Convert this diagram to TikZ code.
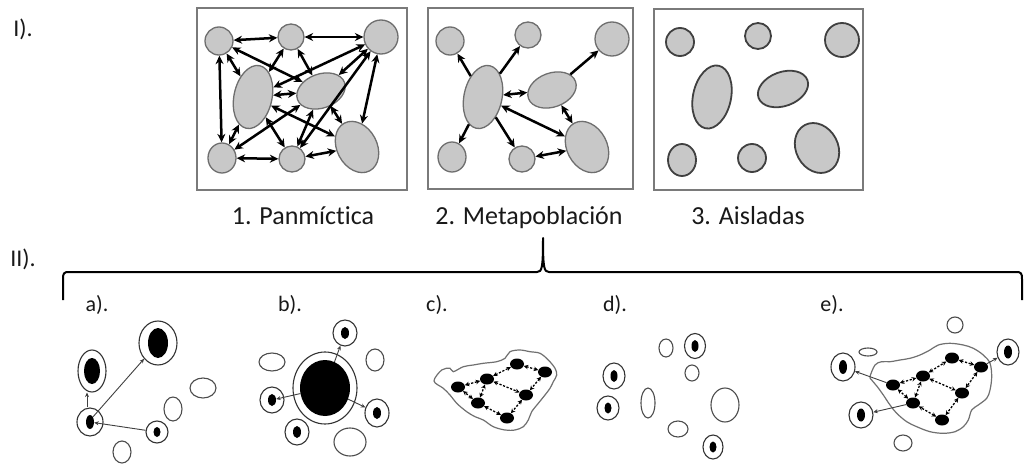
\documentclass[tikz,border=0pt]{standalone}
\usepackage{fontspec}
\setmainfont{Carlito}[Ligatures={NoCommon}]
\usetikzlibrary{shapes.geometric,arrows.meta}
\definecolor{popfill}{HTML}{C8C8C8}
\definecolor{popline}{HTML}{6E6E6E}
\definecolor{boxline}{HTML}{7A7A7A}
\definecolor{blobline}{HTML}{707070}
\tikzset{
  pop/.style={ellipse, draw=popline, fill=popfill, line width=1.3pt, inner sep=0pt},
  popdark/.style={ellipse, draw=black!75, fill=popfill, line width=1.8pt, inner sep=0pt},
  panel/.style={draw=boxline, line width=1.4pt},
  darr/.style={line width=2.5pt, {Stealth[length=8.5pt,width=8pt]}-{Stealth[length=8.5pt,width=8pt]}},
  sarr/.style={line width=2.5pt, -{Stealth[length=8.5pt,width=8pt]}},
  ring/.style={ellipse, draw=black!80, line width=1.1pt, inner sep=0pt},
  core/.style={ellipse, fill=black, inner sep=0pt},
  empty/.style={ellipse, draw=black!70, line width=1.1pt, inner sep=0pt},
  tarr/.style={line width=0.9pt, draw=black!75, -{Stealth[length=4.5pt,width=4pt]}},
  dotn/.style={ellipse, fill=black, inner sep=0pt, minimum width=14pt, minimum height=11pt},
  darrow/.style={line width=1.3pt, dash pattern=on 2.2pt off 1.6pt, {Stealth[length=4.5pt,width=4.5pt]}-{Stealth[length=4.5pt,width=4.5pt]}},
  blob/.style={draw=blobline, line width=1.2pt, fill=white},
  lbl/.style={font=\fontsize{26}{30}\selectfont, text=black!90, inner sep=0pt, anchor=base},
  slbl/.style={font=\fontsize{24}{28}\selectfont, text=black!90, inner sep=0pt},
  plbl/.style={font=\fontsize{22}{26}\selectfont, text=black!90, inner sep=0pt}
}
\begin{document}
\begin{tikzpicture}[x=1pt,y=-1pt]
\useasboundingbox (0,0) rectangle (1025,468);
\fill[white] (0,0) rectangle (1025,468);

% Section labels
\node[slbl] (lI) at (23,29) {I).};
\node[slbl] (lII) at (23,259) {II).};

% Panel boxes
\draw[panel] (197,8) rectangle (407,190);
\draw[panel] (428,8) rectangle (633,189);
\draw[panel] (654,9) rectangle (863,190);

% ---------- Box 1: Panmictica ----------
\node[pop, minimum width=28pt, minimum height=28pt] (TL1) at (219,41) {};
\node[pop, minimum width=26pt, minimum height=26pt] (TM1) at (291,37) {};
\node[pop, minimum width=34pt, minimum height=34pt] (TR1) at (381,37) {};
\node[pop, minimum width=38pt, minimum height=64pt, rotate=-12] (L1) at (253,97) {};
\node[pop, minimum width=50pt, minimum height=34pt, rotate=20] (M1) at (321,91) {};
\node[pop, minimum width=28pt, minimum height=30pt] (BL1) at (222,158) {};
\node[pop, minimum width=26pt, minimum height=26pt] (BM1) at (292,159) {};
\node[pop, minimum width=40pt, minimum height=54pt, rotate=28] (BR1) at (357,147) {};
\foreach \a/\b in {TL1/TM1, TM1/TR1, TL1/BL1, TR1/BR1, BL1/BM1, BM1/BR1,
  TL1/L1, TL1/M1, TM1/L1, TM1/M1, TR1/L1, TR1/M1, TR1/BM1,
  L1/M1, L1/BL1, L1/BM1, L1/BR1, M1/BL1, M1/BM1, M1/BR1}
  \draw[darr] (\a) -- (\b);

% ---------- Box 2: Metapoblacion ----------
\node[pop, minimum width=28pt, minimum height=28pt] (TL2) at (450,41) {};
\node[pop, minimum width=26pt, minimum height=26pt] (TM2) at (528,35) {};
\node[pop, minimum width=34pt, minimum height=34pt] (TR2) at (612,39) {};
\node[pop, minimum width=38pt, minimum height=64pt, rotate=-12] (L2) at (483,97) {};
\node[pop, minimum width=50pt, minimum height=34pt, rotate=20] (M2) at (552,90) {};
\node[pop, minimum width=28pt, minimum height=30pt] (BL2) at (452,157) {};
\node[pop, minimum width=26pt, minimum height=26pt] (BM2) at (522,159) {};
\node[pop, minimum width=40pt, minimum height=54pt, rotate=28] (BR2) at (587,147) {};
\draw[sarr] (L2) -- (TL2);
\draw[sarr] (L2) -- (TM2);
\draw[sarr] (L2) -- (BL2);
\draw[sarr] (L2) -- (BM2);
\draw[sarr] (M2) -- (TR2);
\draw[darr] (L2) -- (M2);
\draw[darr] (L2) -- (BR2);
\draw[darr] (M2) -- (BR2);
\draw[darr] (BM2) -- (BR2);

% ---------- Box 3: Aisladas ----------
\node[popdark, minimum width=28pt, minimum height=28pt] (TL3) at (680,42) {};
\node[popdark, minimum width=26pt, minimum height=26pt] (TM3) at (758,36) {};
\node[popdark, minimum width=34pt, minimum height=34pt] (TR3) at (842,40) {};
\node[popdark, minimum width=38pt, minimum height=64pt, rotate=-12] (L3) at (712,97) {};
\node[popdark, minimum width=52pt, minimum height=34pt, rotate=20] (M3) at (783,89) {};
\node[popdark, minimum width=28pt, minimum height=32pt] (BL3) at (682,160) {};
\node[popdark, minimum width=28pt, minimum height=28pt] (BM3) at (752,158) {};
\node[popdark, minimum width=42pt, minimum height=52pt, rotate=28] (BR3) at (817,148) {};

% Captions
\node[lbl] (c1) at (303,224) {1. Panmíctica};
\node[lbl] (c2) at (529,224) {2. Metapoblación};
\node[lbl] (c3) at (748,224) {3. Aisladas};

% Brace
\draw[line width=2pt, line join=round] (63,300) -- (63,279) .. controls (63,273) and (64,272) .. (69,272)
  -- (537,272) .. controls (542,272) and (543,268) .. (543,238)
  .. controls (543,268) and (544,272) .. (549,272)
  -- (1016,272) .. controls (1021,272) and (1022,273) .. (1022,279) -- (1022,300);

% ---------- Panel a ----------
\node[plbl] (la) at (97,305) {a).};
\node[ring, minimum width=28pt, minimum height=42pt] (A1o) at (92,371) {};
\node[core, minimum width=16pt, minimum height=26pt] (A1i) at (92,371) {};
\node[ring, minimum width=38pt, minimum height=44pt] (A2o) at (158,343) {};
\node[core, minimum width=20pt, minimum height=30pt] (A2i) at (158,343) {};
\node[ring, minimum width=26pt, minimum height=28pt] (A3o) at (90,422) {};
\node[core, minimum width=8pt, minimum height=14pt] (A3i) at (90,422) {};
\node[ring, minimum width=22pt, minimum height=22pt] (A4o) at (157,432) {};
\node[core, minimum width=7pt, minimum height=10pt] (A4i) at (157,432) {};
\node[empty, minimum width=26pt, minimum height=20pt] (Ae1) at (203,388) {};
\node[empty, minimum width=18pt, minimum height=24pt] (Ae2) at (173,409) {};
\node[empty, minimum width=18pt, minimum height=22pt] (Ae3) at (122,452) {};
\draw[tarr] ([xshift=-3pt]A3o.north) -- ([xshift=-5pt]A1o.south);
\draw[tarr] (A3i.north east) -- (A2o);
\draw[tarr] (A4o) -- (A3i);

% ---------- Panel b ----------
\node[plbl] (lb) at (290,305) {b).};
\node[ring, minimum width=64pt, minimum height=72pt] (B0o) at (325,388) {};
\node[core, minimum width=50pt, minimum height=56pt] (B0i) at (325,388) {};
\node[ring, minimum width=24pt, minimum height=26pt] (B1o) at (345,333) {};
\node[core, minimum width=8pt, minimum height=12pt] (B1i) at (345,333) {};
\node[ring, minimum width=24pt, minimum height=26pt] (B2o) at (272,400) {};
\node[core, minimum width=8pt, minimum height=12pt] (B2i) at (272,400) {};
\node[ring, minimum width=24pt, minimum height=28pt] (B3o) at (377,413) {};
\node[core, minimum width=8pt, minimum height=12pt] (B3i) at (377,413) {};
\node[ring, minimum width=24pt, minimum height=26pt] (B4o) at (297,432) {};
\node[core, minimum width=8pt, minimum height=12pt] (B4i) at (297,432) {};
\node[empty, minimum width=26pt, minimum height=18pt] (Be1) at (272,362) {};
\node[empty, minimum width=18pt, minimum height=22pt] (Be2) at (375,360) {};
\node[empty, minimum width=32pt, minimum height=28pt] (Be3) at (350,442) {};
\draw[tarr] (B0i) -- (B1o);
\draw[tarr] (B0i) -- (B2i);
\draw[tarr] (B0i) -- (B3o);

% ---------- Panel c ----------
\node[plbl] (lc) at (437,305) {c).};
\draw[blob] plot[smooth cycle, tension=0.55] coordinates {
 (434,381) (441.7,370) (450,368.3) (453.3,371.7) (463.3,366.7) (473.3,365) (483.3,363.3)
 (496.7,361.7) (505,358.3) (510,351.7) (520,350) (530,351.7) (540,353.3) (548.3,360)
 (555,368.3) (556.7,375) (553.3,381.7) (550,388.3) (545,395) (538.3,403.3) (531.7,411.7)
 (528.3,420) (523.3,426.7) (515,430) (505,430) (493.3,426.7) (483.3,420) (475,416.7)
 (466.7,411.7) (456.7,403.3) (450,395) (443.3,388.3)};
\node[dotn] (c1n) at (458,387) {};
\node[dotn] (c2n) at (487,379) {};
\node[dotn] (c3n) at (517,364) {};
\node[dotn] (c4n) at (545,372) {};
\node[dotn] (c5n) at (526,395) {};
\node[dotn] (c6n) at (478,403) {};
\node[dotn] (c7n) at (507,418) {};
\foreach \a/\b in {c1n/c2n, c2n/c3n, c3n/c4n, c4n/c5n, c5n/c7n, c7n/c6n, c6n/c1n, c6n/c2n, c2n/c5n}
  \draw[darrow] (\a) -- (\b);

% ---------- Panel d ----------
\node[plbl] (ld) at (615,305) {d).};
\node[ring, minimum width=21pt, minimum height=25pt] (D1o) at (695,346) {};
\node[core, minimum width=7pt, minimum height=12pt] (D1i) at (695,346) {};
\node[ring, minimum width=22pt, minimum height=26pt] (D2o) at (614,376) {};
\node[core, minimum width=7pt, minimum height=12pt] (D2i) at (614,376) {};
\node[ring, minimum width=22pt, minimum height=24pt] (D3o) at (608,408) {};
\node[core, minimum width=7pt, minimum height=11pt] (D3i) at (608,408) {};
\node[ring, minimum width=20pt, minimum height=24pt] (D4o) at (713,447) {};
\node[core, minimum width=7pt, minimum height=11pt] (D4i) at (713,447) {};
\node[empty, minimum width=14pt, minimum height=18pt] (De1) at (666,348) {};
\node[empty, minimum width=14pt, minimum height=16pt] (De2) at (692,373) {};
\node[empty, minimum width=14pt, minimum height=30pt] (De3) at (648,403) {};
\node[empty, minimum width=20pt, minimum height=16pt] (De4) at (678,429) {};
\node[empty, minimum width=28pt, minimum height=34pt] (De5) at (725,405) {};

% ---------- Panel e ----------
\node[plbl] (le) at (832,305) {e).};
\draw[blob] plot[smooth cycle, tension=0.55] coordinates {
 (870,376.7) (875,365) (881.7,361.7) (890,361.7) (900,360) (910,358.3) (920,355) (930,350)
 (938.3,345) (950,343.3) (963.3,345) (973.3,348.3) (983.3,355) (990,363.3) (991.7,376.7)
 (990,390) (986.7,398.3) (978.3,405) (971.7,410) (968.3,420) (963.3,426.7) (955,431.7)
 (943.3,433.3) (930,431.7) (916.7,426.7) (906.7,421.7) (896.7,413.3) (890,405) (883.3,395)
 (877.3,386.7) (871.7,380)};
\node[dotn] (e1n) at (893,385) {};
\node[dotn] (e2n) at (923,376) {};
\node[dotn] (e3n) at (952,358) {};
\node[dotn] (e4n) at (981,367) {};
\node[dotn] (e5n) at (962,393) {};
\node[dotn] (e6n) at (913,403) {};
\node[dotn] (e7n) at (942,420) {};
\foreach \a/\b in {e1n/e2n, e2n/e3n, e3n/e4n, e4n/e5n, e5n/e7n, e7n/e6n, e6n/e1n, e6n/e2n, e2n/e5n}
  \draw[darrow] (\a) -- (\b);
\node[ring, minimum width=24pt, minimum height=28pt] (E1o) at (843,367) {};
\node[core, minimum width=8pt, minimum height=14pt] (E1i) at (843,367) {};
\node[ring, minimum width=24pt, minimum height=26pt] (E2o) at (861,415) {};
\node[core, minimum width=8pt, minimum height=13pt] (E2i) at (861,415) {};
\node[ring, minimum width=22pt, minimum height=26pt] (E3o) at (1008,352) {};
\node[core, minimum width=8pt, minimum height=13pt] (E3i) at (1008,352) {};
\node[empty, minimum width=16pt, minimum height=16pt] (Ee1) at (955,325) {};
\node[empty, minimum width=18pt, minimum height=8pt] (Ee2) at (868,352) {};
\node[empty, minimum width=18pt, minimum height=16pt] (Ee3) at (903,443) {};
\draw[tarr] (e1n) -- (E1o);
\draw[tarr] (e6n) -- (E2o);
\draw[tarr] (e4n) -- (E3o);
\end{tikzpicture}
\end{document}
